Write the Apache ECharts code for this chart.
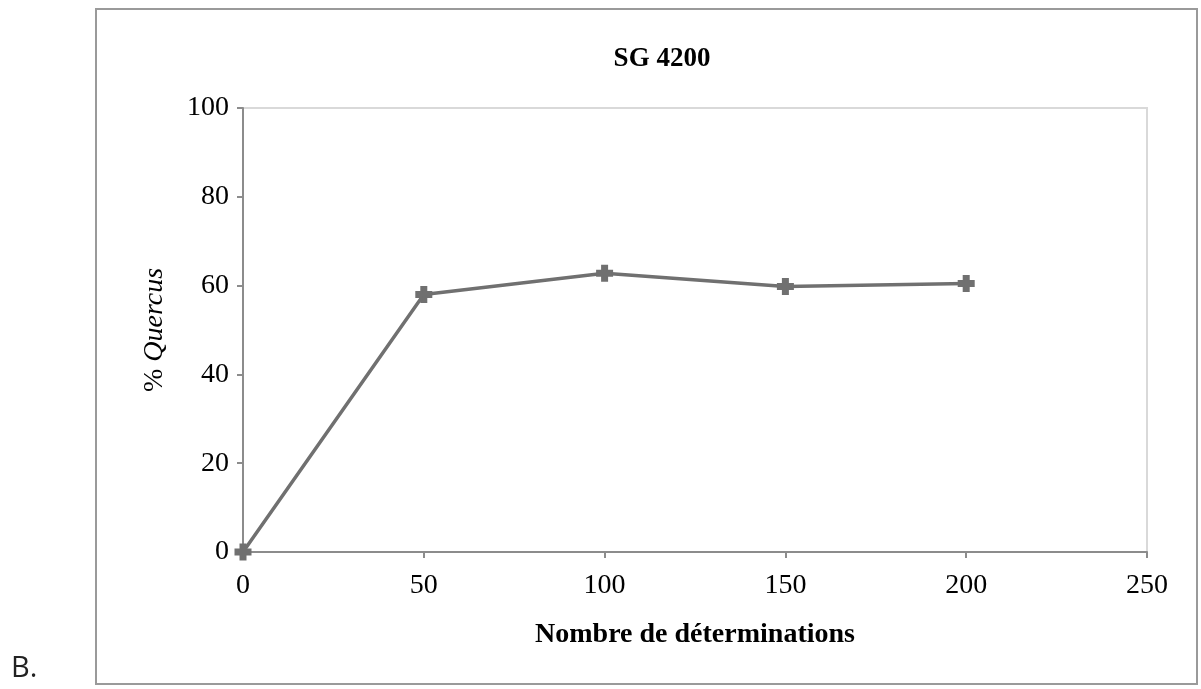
<!DOCTYPE html>
<html>
<head>
<meta charset="utf-8">
<script src="https://cdn.jsdelivr.net/npm/echarts@6/dist/echarts.min.js"></script>
<style>
html, body { margin: 0; padding: 0; background: #fff; }
#chart { width: 1201px; height: 689px; }
</style>
</head>
<body>
<div id="chart"></div>
<script>
// data
var determinations = [0, 50, 100, 150, 200];
var quercusPct = [0, 58, 62.8, 59.8, 60.5];
var xTicks = [0, 50, 100, 150, 200, 250];
var yTicks = [0, 20, 40, 60, 80, 100];

var points = [];
for (var i = 0; i < determinations.length; i++) {
    points.push([determinations[i], quercusPct[i]]);
}

var serif = '"Liberation Serif", "DejaVu Serif", serif';
var myChart = echarts.init(document.getElementById('chart'));

var option = {
    backgroundColor: '#fff',
    animation: false,
    title: {
        text: 'SG 4200',
        left: 657,
        top: 41,
        textAlign: 'center',
        textStyle: { fontFamily: serif, fontSize: 27, fontWeight: 'bold', color: '#000' }
    },
    graphic: [
        {
            type: 'rect',
            shape: { x: 96, y: 9, width: 1101, height: 675 },
            style: { fill: 'none', stroke: '#9a9a9a', lineWidth: 2 },
            z: -1
        },
        {
            type: 'text',
            left: 11,
            top: 654,
            style: { text: 'B.', font: '29px "Open Sans", "DejaVu Sans", sans-serif', fill: '#222' }
        }
    ],
    grid: {
        left: 243,
        right: 54,
        top: 108,
        bottom: 137,
        show: true,
        borderColor: '#d9d9d9',
        borderWidth: 2,
        backgroundColor: 'transparent'
    },
    xAxis: {
        type: 'value',
        min: xTicks[0],
        max: xTicks[xTicks.length - 1],
        interval: 50,
        name: 'Nombre de déterminations',
        nameLocation: 'middle',
        nameGap: 69,
        nameTextStyle: { fontFamily: serif, fontSize: 28, fontWeight: 'bold', color: '#000' },
        axisLine: { show: true, lineStyle: { color: '#8c8c8c', width: 2 } },
        axisTick: { show: true, inside: false, length: 6, lineStyle: { color: '#8c8c8c', width: 2 } },
        axisLabel: { fontFamily: serif, fontSize: 28, color: '#000', margin: 20 },
        splitLine: { show: false }
    },
    yAxis: {
        type: 'value',
        min: yTicks[0],
        max: yTicks[yTicks.length - 1],
        interval: 20,
        name: '{n|% }{i|Quercus}',
        nameLocation: 'middle',
        nameGap: 74,
        nameRotate: 90,
        nameTextStyle: {
            rich: {
                n: { fontFamily: serif, fontSize: 28, color: '#000' },
                i: { fontFamily: serif, fontSize: 28, fontStyle: 'italic', color: '#000' }
            }
        },
        axisLine: { show: true, lineStyle: { color: '#8c8c8c', width: 2 } },
        axisTick: { show: true, inside: false, length: 6, lineStyle: { color: '#8c8c8c', width: 2 } },
        axisLabel: { fontFamily: serif, fontSize: 28, color: '#000', margin: 14 },
        splitLine: { show: false }
    },
    series: [
        {
            type: 'line',
            data: points,
            symbol: 'path://M4,0 L8,0 L8,4 L12,4 L12,8 L8,8 L8,12 L4,12 L4,8 L0,8 L0,4 L4,4 Z',
            symbolSize: 15,
            lineStyle: { color: '#707070', width: 3.5 },
            itemStyle: { color: '#707070', borderColor: '#707070', borderWidth: 2 }
        }
    ]
};
myChart.setOption(option);
</script>
</body>
</html>
